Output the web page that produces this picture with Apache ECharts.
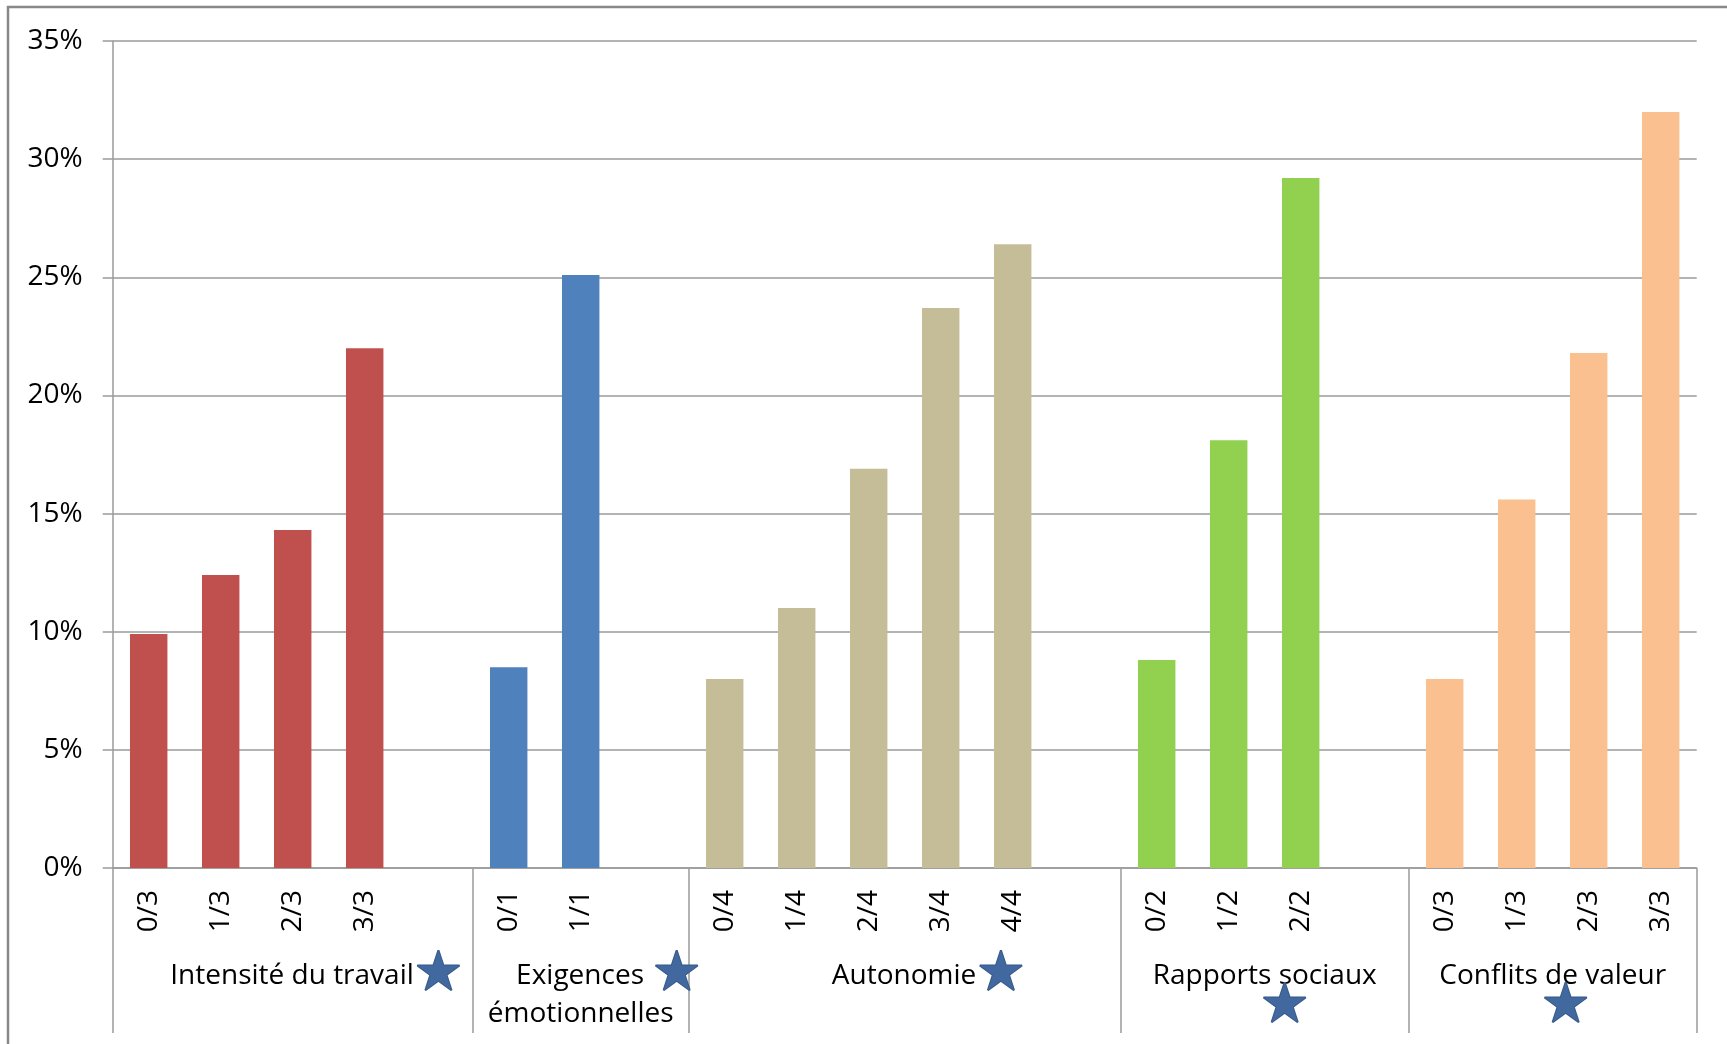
<!DOCTYPE html>
<html>
<head>
<meta charset="utf-8">
<script src="https://cdn.jsdelivr.net/npm/echarts@6/dist/echarts.min.js"></script>
<style>
html,body{margin:0;padding:0;background:#fff;}
#chart{width:1727px;height:1044px;}
</style>
</head>
<body>
<div id="chart"></div>
<script>
// ---- data ----
const groupNames = ['Intensité du travail', 'Exigences émotionnelles', 'Autonomie', 'Rapports sociaux', 'Conflits de valeur'];
const intensiteCats = ['0/3', '1/3', '2/3', '3/3'];
const exigencesCats = ['0/1', '1/1'];
const autonomieCats = ['0/4', '1/4', '2/4', '3/4', '4/4'];
const rapportsCats = ['0/2', '1/2', '2/2'];
const conflitsCats = ['0/3', '1/3', '2/3', '3/3'];
const intensiteValues = [9.9, 12.4, 14.3, 22.0];
const exigencesValues = [8.5, 25.1];
const autonomieValues = [8.0, 11.0, 16.9, 23.7, 26.4];
const rapportsValues = [8.8, 18.1, 29.2];
const conflitsValues = [8.0, 15.6, 21.8, 32.0];
const yTicks = [0, 5, 10, 15, 20, 25, 30, 35];
const groupColors = ['#C0504D', '#4F81BD', '#C4BD97', '#92D050', '#FAC090'];
const gapAfter = [1, 1, 1, 1, 0];

// ---- build ----
const groupCats = [intensiteCats, exigencesCats, autonomieCats, rapportsCats, conflitsCats];
const groupValues = [intensiteValues, exigencesValues, autonomieValues, rapportsValues, conflitsValues];
const categories = [];
const barData = [];
const bounds = [0];
const centers = [];
groupCats.forEach(function (cats, g) {
  const start = categories.length;
  cats.forEach(function (c, i) {
    categories.push(c);
    barData.push({ value: groupValues[g][i], itemStyle: { color: groupColors[g] } });
  });
  for (let k = 0; k < gapAfter[g]; k++) { categories.push(''); barData.push(null); }
  const end = categories.length;
  bounds.push(end);
  centers.push((start + end) / 2);
});
const nSlots = categories.length;
const centersEven = centers.filter(function (c, i) { return i % 2 === 0; });
const centersOdd = centers.filter(function (c, i) { return i % 2 === 1; });

function groupLabel(g) {
  const n = groupNames[g];
  if (g === 0 || g === 2) return '{h| }{t|' + n + '}{s|★}';
  if (g === 1) {
    const p = n.split(' ');
    return '{h2| }{t|' + p[0] + '}{g| }{s|★}\n{t|' + p[1] + '}';
  }
  if (g === 3) return '{t|' + n + '}\n{s2|★}';
  return '{t|' + n + '}\n{s3|★}';
}
function fmt(v) {
  let g = -1;
  centers.forEach(function (c, i) { if (Math.abs(c - v) < 1e-6) g = i; });
  return g < 0 ? '' : groupLabel(g);
}

const gray = '#9a9a9a';
const font = 'Open Sans';
const starStyle = {
  fontFamily: 'DejaVu Sans', fontSize: 55, lineHeight: 38,
  color: '#41689f', textBorderColor: '#365a88', textBorderWidth: 2
};
const richStyles = {
  t: { fontFamily: font, fontSize: 28, lineHeight: 38, color: '#000' },
  s: starStyle,
  h: { width: 48, fontSize: 28, lineHeight: 38 },
  h2: { width: 56, fontSize: 28, lineHeight: 38 },
  g: { width: 8, fontSize: 28, lineHeight: 38 },
  s2: Object.assign({}, starStyle, { lineHeight: 26, padding: [0, 0, 0, 40] }),
  s3: Object.assign({}, starStyle, { lineHeight: 26, padding: [0, 0, 0, 26] })
};
function groupAxis(vals, withTicks) {
  return {
    type: 'value',
    min: 0,
    max: nSlots,
    position: 'bottom',
    axisLine: { show: false },
    splitLine: { show: false },
    axisTick: withTicks
      ? { show: true, inside: false, customValues: bounds, length: 165, lineStyle: { color: gray, width: 1.5 } }
      : { show: false },
    axisLabel: {
      customValues: vals,
      showMinLabel: true,
      showMaxLabel: true,
      hideOverlap: false,
      margin: 89,
      formatter: fmt,
      rich: richStyles
    }
  };
}

const chart = echarts.init(document.getElementById('chart'));
chart.setOption({
  animation: false,
  backgroundColor: '#fff',
  grid: { left: 112.7, right: 30.3, top: 41, bottom: 176, containLabel: false, outerBoundsMode: 'none' },
  xAxis: [{
    type: 'category',
    data: categories,
    position: 'bottom',
    axisLine: { show: true, lineStyle: { color: gray, width: 1.5 } },
    axisTick: { show: false },
    axisLabel: { interval: 0, rotate: 90, margin: 22, fontSize: 28, fontFamily: font, color: '#000' }
  }, groupAxis(centersOdd, true), groupAxis(centersEven, false)],
  yAxis: {
    type: 'value',
    min: yTicks[0],
    max: yTicks[yTicks.length - 1],
    interval: yTicks[1] - yTicks[0],
    axisLine: { show: true, lineStyle: { color: gray, width: 1.5 } },
    axisTick: { show: true, inside: false, length: 10, lineStyle: { color: gray, width: 1.5 } },
    axisLabel: { formatter: '{value}%', margin: 30, fontSize: 28, fontFamily: font, color: '#000' },
    splitLine: { show: true, lineStyle: { color: gray, width: 1.5 } }
  },
  series: [{
    type: 'bar',
    xAxisIndex: 0,
    data: barData,
    barWidth: '52%'
  }],
  graphic: [{
    type: 'rect',
    shape: { x: 8, y: 7, width: 1800, height: 1100 },
    style: { fill: 'none', stroke: '#888', lineWidth: 2.5 },
    silent: true
  }]
});
</script>
</body>
</html>
